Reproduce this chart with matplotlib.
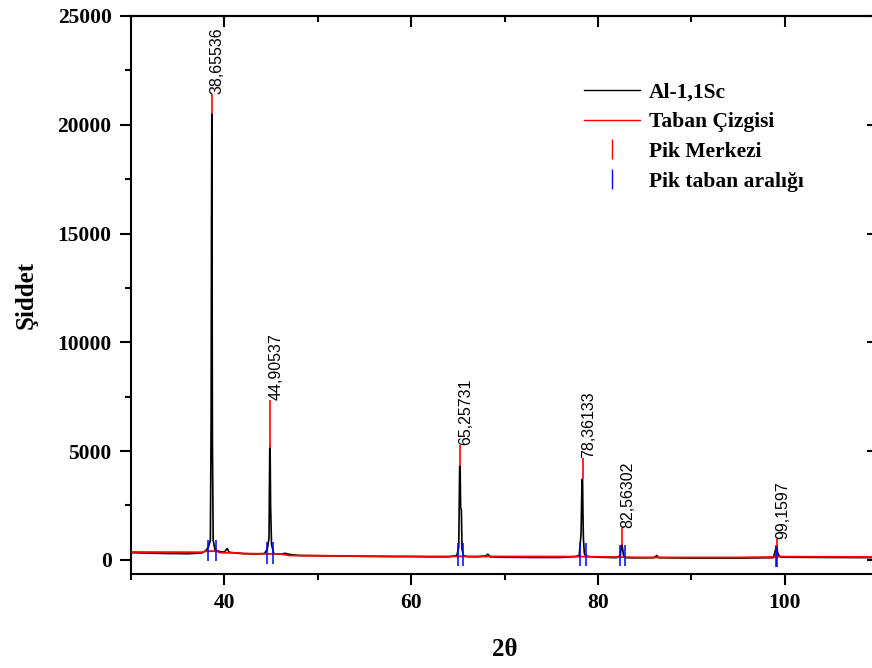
import matplotlib
matplotlib.use("Agg")
import matplotlib.pyplot as plt
from matplotlib.lines import Line2D
from matplotlib.ticker import MultipleLocator

plt.rcParams["font.family"] = ["Liberation Serif", "DejaVu Serif"]
plt.rcParams["font.weight"] = "bold"

# measured pattern (2theta, intensity)
two_theta = [30.0, 31.0, 32.0, 33.0, 34.0, 35.0, 36.0, 37.0, 37.6, 38.0, 38.3,
             38.5, 38.58, 38.62, 38.655, 38.68, 38.72, 38.8, 39.0, 39.5, 40.0,
             40.3, 40.5, 41.5, 42.5, 43.5, 44.3, 44.6, 44.78, 44.86, 44.9, 44.95,
             45.05, 45.3, 45.6, 46.0, 46.5, 47.0, 48.0, 50.0, 52.0, 55.0, 58.0,
             60.0, 62.0, 64.0, 64.9, 65.1, 65.2, 65.25, 65.3, 65.38, 65.45, 65.6,
             66.0, 67.0, 68.0, 68.2, 68.5, 70.0, 73.0, 76.0, 77.6, 78.0, 78.2,
             78.3, 78.36, 78.4, 78.45, 78.55, 78.7, 79.0, 80.0, 82.0, 82.4, 82.5,
             82.56, 82.62, 82.75, 83.0, 84.0, 86.0, 86.3, 86.5, 90.0, 95.0, 98.8,
             99.05, 99.16, 99.25, 99.4, 99.6, 100.0, 105.0, 110.0]
intensity = [330, 320, 310, 300, 290, 290, 280, 300, 320, 420, 600,
             900, 6500, 15300, 20500, 15300, 5500, 900, 450, 380, 360,
             520, 350, 300, 280, 270, 290, 500, 1000, 5100, 5150, 2500,
             700, 280, 270, 260, 300, 250, 200, 190, 180, 160, 150,
             150, 140, 140, 200, 600, 4300, 4300, 2400, 2300, 500, 200,
             150, 140, 180, 260, 140, 120, 110, 110, 150, 200, 1200,
             3700, 3700, 2200, 1000, 300, 180, 150, 120, 100, 200, 600,
             700, 600, 200, 100, 90, 100, 200, 100, 80, 80, 100,
             500, 600, 350, 180, 130, 120, 110, 100]

# baseline
base_x = [30.0, 37.6, 38.0, 39.2, 39.5, 41.5, 42.0, 46.0, 47.0, 60.0, 78.0,
          82.0, 85.0, 95.0, 98.5, 99.3, 110.0]
base_y = [360, 350, 400, 400, 330, 320, 290, 270, 200, 160, 150,
          130, 110, 110, 130, 150, 130]

# peak centres and labels
peak_x = [38.65536, 44.90537, 65.25731, 78.36133, 82.56302, 99.1597]
peak_top = [21400, 7350, 5300, 4700, 1450, 950]
peak_labels = ["38,65536", "44,90537", "65,25731", "78,36133", "82,56302", "99,1597"]

# peak base range markers
range_x = [38.2, 39.05, 44.6, 45.2, 65.0, 65.6, 78.1, 78.7, 82.4, 82.95, 99.08, 99.18]
range_lo = [-50, -50, -200, -200, -280, -280, -280, -280, -300, -300, -320, -320]
range_hi = [920, 920, 830, 830, 780, 780, 780, 780, 700, 700, 690, 690]

fig = plt.figure(figsize=(8.72, 6.68), dpi=100)
ax = fig.add_axes([131 / 872, 94 / 668, 747 / 872, 558 / 668])

ax.plot(two_theta, intensity, color="black", lw=1.2, zorder=3)
ax.plot(base_x, base_y, color="red", lw=1.3, zorder=4)
ax.vlines(range_x, range_lo, range_hi, color="blue", lw=1.1, zorder=5)

for px, top, lab in zip(peak_x, peak_top, peak_labels):
    near = [y for x, y in zip(two_theta, intensity) if abs(x - px) < 0.3]
    ax.vlines(px, max(near), top, color="red", lw=1.2, zorder=5)
    ax.text(px - 0.2, top, lab, rotation=90, ha="left", va="bottom",
            family="Liberation Sans", fontweight="normal", fontsize=11.5)

ax.set_xlim(30, 110)
ax.set_ylim(-650, 25000)
ax.xaxis.set_major_locator(MultipleLocator(20))
ax.xaxis.set_minor_locator(MultipleLocator(10))
ax.yaxis.set_major_locator(MultipleLocator(5000))
ax.yaxis.set_minor_locator(MultipleLocator(2500))
ax.tick_params(which="major", direction="out", length=8, width=1.5,
               labelsize=15.5, pad=6)
ax.tick_params(which="minor", direction="out", length=4, width=1.5)

top = ax.secondary_xaxis("top")
top.xaxis.set_major_locator(MultipleLocator(20))
top.xaxis.set_minor_locator(MultipleLocator(10))
top.tick_params(which="major", direction="in", length=8, width=1.5, labeltop=False)
top.tick_params(which="minor", direction="in", length=4, width=1.5)
right = ax.secondary_yaxis("right")
right.yaxis.set_major_locator(MultipleLocator(5000))
right.yaxis.set_minor_locator(MultipleLocator(2500))
right.tick_params(which="major", direction="in", length=8, width=1.5, labelright=False)
right.tick_params(which="minor", direction="in", length=4, width=1.5)
for a in (ax, top, right):
    for s in a.spines.values():
        s.set_linewidth(1.5)

ax.set_xlabel("2θ", fontsize=18, fontweight="bold", labelpad=18)
ax.set_ylabel("Şiddet", fontsize=18, fontweight="bold", labelpad=14)

handles = [
    Line2D([], [], color="black", lw=1),
    Line2D([], [], color="red", lw=1),
    Line2D([], [], color="red", ls="none", marker="|", markersize=15, mew=1),
    Line2D([], [], color="blue", ls="none", marker="|", markersize=15, mew=1),
]
labels = ["Al-1,1Sc", "Taban Çizgisi", "Pik Merkezi", "Pik taban aralığı"]
ax.legend(handles, labels, loc="upper left", bbox_to_anchor=(0.607, 0.881),
          frameon=False, fontsize=15.5, handlelength=2.6, handletextpad=0.4,
          labelspacing=0.45, borderpad=0, borderaxespad=0, numpoints=1)

fig.savefig("out.png", dpi=100)
plt.close()
